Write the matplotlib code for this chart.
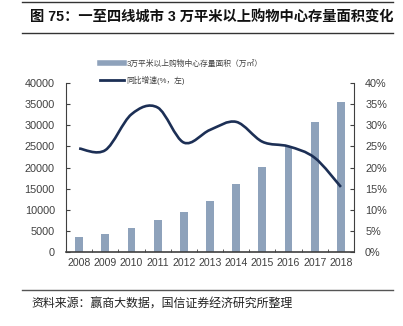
import matplotlib
matplotlib.use("Agg")
import matplotlib.pyplot as plt
import numpy as np
from matplotlib.path import Path
from matplotlib.patches import PathPatch
from matplotlib.lines import Line2D

plt.rcParams['font.family'] = ['Liberation Sans', 'Noto Sans CJK SC', 'DejaVu Sans']

years = ['2008', '2009', '2010', '2011', '2012', '2013', '2014', '2015', '2016', '2017', '2018']
area = [3500, 4300, 5600, 7500, 9400, 12100, 16000, 20200, 25100, 30700, 35400]
growth = [24.5, 24.1, 32.6, 34.2, 25.9, 28.9, 30.8, 26.1, 25.0, 22.3, 15.4]
left_ticks = [0, 5000, 10000, 15000, 20000, 25000, 30000, 35000, 40000]
right_ticks = [0, 5, 10, 15, 20, 25, 30, 35, 40]

title = '图 75：一至四线城市 3 万平米以上购物中心存量面积变化'
source = '资料来源：赢商大数据，国信证券经济研究所整理'
bar_label = '3万平米以上购物中心存量面积（万㎡）'
line_label = '同比增速(%，左)'

bar_color = '#8EA2BB'
line_color = '#1C2F55'
txt_color = '#404040'

fig = plt.figure(figsize=(4.03, 3.26), dpi=100)
W, H = 403, 326
def fx(x): return x / W
def fy(y): return 1 - y / H

ax = fig.add_axes([fx(66), fy(252), fx(354) - fx(66), fy(83) - fy(252)])
x = np.arange(len(years))
ax.bar(x, area, width=0.3, color=bar_color, zorder=2)
ax.set_xlim(-0.5, len(years) - 0.5)
ax.set_ylim(0, 40000)
ax.set_yticks(left_ticks)
ax.set_yticklabels([str(v) for v in left_ticks])
ax.set_xticks(x)
ax.set_xticklabels(years)
ax.set_xticks(np.arange(-0.5, len(years), 1.0), minor=True)
ax.tick_params(axis='x', which='major', length=0, pad=4, labelsize=7.6, colors=txt_color)
ax.tick_params(axis='x', which='minor', length=2.5, direction='in', color='#404040')
ax.tick_params(axis='y', length=3, direction='in', labelsize=7.8, colors=txt_color, pad=8, color='#404040')
for s in ['top', 'right']:
    ax.spines[s].set_visible(False)
ax.spines['left'].set_color('#404040')
ax.spines['bottom'].set_color('#404040')
ax.spines['bottom'].set_linewidth(1.2)

ax2 = ax.twinx()
ax2.set_ylim(0, 40)
ax2.set_yticks(right_ticks)
ax2.set_yticklabels([f'{v}%' for v in right_ticks])
ax2.tick_params(axis='y', length=3, direction='in', labelsize=7.8, colors=txt_color, pad=8, color='#404040')
for s in ['top', 'left', 'bottom']:
    ax2.spines[s].set_visible(False)
ax2.spines['right'].set_color('#404040')

# smooth curve (Catmull-Rom style Bezier, like Excel smoothing)
px = x.astype(float)
py = np.array(growth, dtype=float)
verts = [(px[0], py[0])]
codes = [Path.MOVETO]
n = len(px)
for i in range(n - 1):
    p0 = (px[i - 1], py[i - 1]) if i > 0 else (px[i], py[i])
    p1 = (px[i], py[i])
    p2 = (px[i + 1], py[i + 1])
    p3 = (px[i + 2], py[i + 2]) if i + 2 < n else (px[i + 1], py[i + 1])
    t = 1 / 6
    c1 = (p1[0] + (p2[0] - p0[0]) * t, p1[1] + (p2[1] - p0[1]) * t)
    c2 = (p2[0] - (p3[0] - p1[0]) * t, p2[1] - (p3[1] - p1[1]) * t)
    verts += [c1, c2, p2]
    codes += [Path.CURVE4] * 3
ax2.add_patch(PathPatch(Path(verts, codes), facecolor='none', edgecolor=line_color, lw=1.9, zorder=3))

handles = [Line2D([0], [0], color=bar_color, lw=4),
           Line2D([0], [0], color=line_color, lw=2)]
fig.legend(handles, [bar_label, line_label], loc='upper left',
           bbox_to_anchor=(fx(97), fy(57)), frameon=False, fontsize=5.6,
           handlelength=3.1, handletextpad=0.3, labelspacing=1.0,
           labelcolor=txt_color, borderaxespad=0)

fig.add_artist(Line2D([fx(22), fx(393)], [fy(1.5), fy(1.5)], color='#333333', lw=1))
fig.add_artist(Line2D([fx(22), fx(393)], [fy(33), fy(33)], color='#333333', lw=1))
fig.add_artist(Line2D([fx(22), fx(393)], [fy(290), fy(290)], color='#555555', lw=1))
fig.text(fx(30), fy(18), title, fontsize=10.3, fontweight='bold', va='center', ha='left',
         family=['Liberation Sans', 'Noto Sans CJK SC'], color='#111111')
fig.text(fx(31), fy(304), source, fontsize=8.6, va='center', ha='left',
         family=['Noto Sans CJK SC'], color='#222222')

fig.savefig('out.png', dpi=100)
